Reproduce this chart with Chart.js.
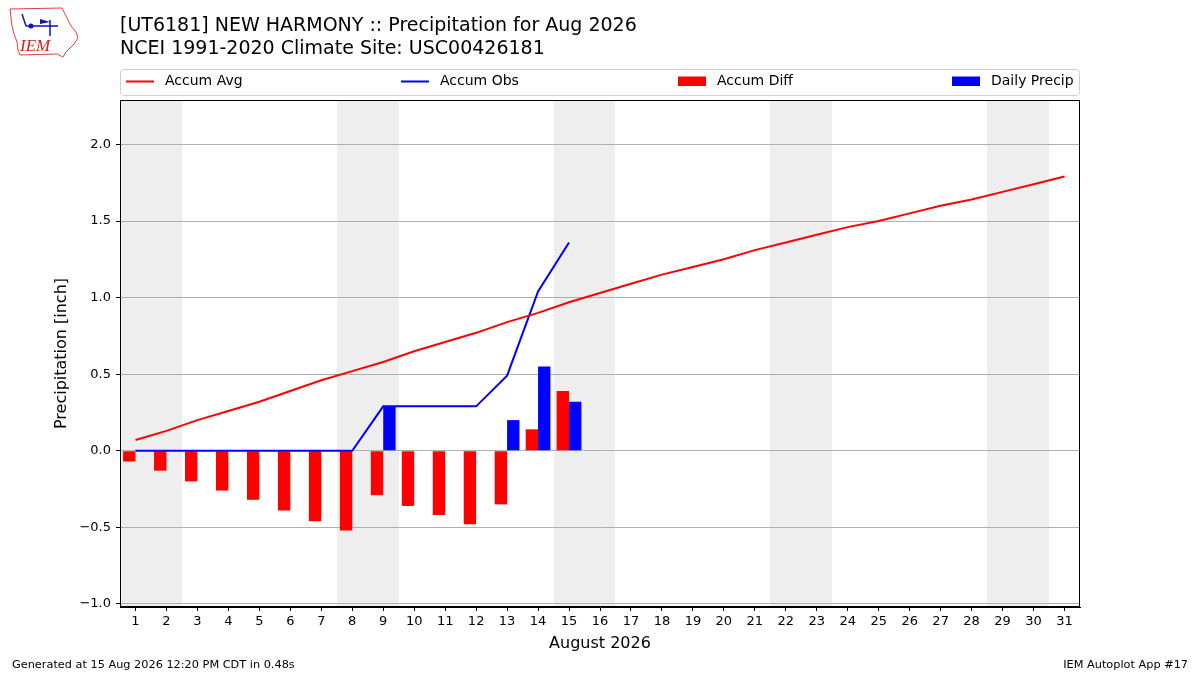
<!DOCTYPE html>
<html>
<head>
<meta charset="utf-8">
<script src="https://cdn.jsdelivr.net/npm/chart.js@4.4.1/dist/chart.umd.min.js"></script>
<style>
html,body{margin:0;padding:0;background:#fff;}
#wrap{width:1200px;height:675px;position:relative;}
</style>
</head>
<body>
<div id="wrap"><canvas id="c" width="1200" height="675"></canvas></div>
<script>
// ---- Data ----
const days = ["1","2","3","4","5","6","7","8","9","10","11","12","13","14","15","16","17","18","19","20","21","22","23","24","25","26","27","28","29","30","31"];
const accumAvg = [0.07,0.13,0.20,0.26,0.32,0.39,0.46,0.52,0.58,0.65,0.71,0.77,0.84,0.90,0.97,1.03,1.09,1.15,1.20,1.25,1.31,1.36,1.41,1.46,1.50,1.55,1.60,1.64,1.69,1.74,1.79];
const accumObs = [0,0,0,0,0,0,0,0,0.29,0.29,0.29,0.29,0.49,1.04,1.36];
const accumDiff = [-0.07,-0.13,-0.20,-0.26,-0.32,-0.39,-0.46,-0.52,-0.29,-0.36,-0.42,-0.48,-0.35,0.14,0.39];
const dailyPrecip = [0,0,0,0,0,0,0,0,0.29,0,0,0,0.20,0.55,0.32];
const weekendDays = ["1","2","8","9","15","16","22","23","29","30"];
const yTicks = [-1.0,-0.5,0.0,0.5,1.0,1.5,2.0];
const titleLines = ["[UT6181] NEW HARMONY :: Precipitation for Aug 2026","NCEI 1991-2020 Climate Site: USC00426181"];
const xTitle = "August 2026";
const yTitle = "Precipitation [inch]";
const footerLeft = "Generated at 15 Aug 2026 12:20 PM CDT in 0.48s";
const footerRight = "IEM Autoplot App #17";

const FONT = "'DejaVu Sans', sans-serif";

const decor = {
  id: 'decor',
  beforeDraw(chart) {
    const {ctx, chartArea: a, scales} = chart;
    ctx.save();
    ctx.fillStyle = '#fff';
    ctx.fillRect(0, 0, chart.width, chart.height);
    // weekend shading (merge consecutive days into one band)
    ctx.fillStyle = '#eeeeee';
    const x = scales.x;
    const half = (x.getPixelForValue(1) - x.getPixelForValue(0)) / 2;
    const idxs = weekendDays.map(d => days.indexOf(d)).sort((p, q) => p - q);
    let start = null, prev = null;
    const bands = [];
    idxs.forEach(i => {
      if (start === null) { start = i; prev = i; }
      else if (i === prev + 1) { prev = i; }
      else { bands.push([start, prev]); start = i; prev = i; }
    });
    if (start !== null) bands.push([start, prev]);
    bands.forEach(([s, e]) => {
      const x0 = Math.round(x.getPixelForValue(s) - half);
      const x1 = Math.round(x.getPixelForValue(e) + half);
      ctx.fillRect(x0, a.top, x1 - x0, a.bottom - a.top);
    });
    ctx.restore();
  },
  afterDraw(chart) {
    const {ctx, chartArea: a} = chart;
    ctx.save();
    // frame
    ctx.strokeStyle = '#000';
    ctx.lineWidth = 1;
    ctx.strokeRect(a.left + 0.5, a.top + 0.5, a.right - a.left - 1, a.bottom - a.top - 1);
    // titles
    ctx.fillStyle = '#000';
    ctx.font = "19px " + FONT;
    ctx.textBaseline = 'alphabetic';
    ctx.textAlign = 'left';
    ctx.fillText(titleLines[0], 120, 31);
    ctx.fillText(titleLines[1], 120, 54);
    // axis titles
    ctx.font = "16px " + FONT;
    ctx.textAlign = 'center';
    ctx.textBaseline = 'middle';
    ctx.fillText(xTitle, (a.left + a.right) / 2, 644);
    ctx.save();
    ctx.translate(62, (a.top + a.bottom) / 2);
    ctx.rotate(-Math.PI / 2);
    ctx.fillText(yTitle, 0, 0);
    ctx.restore();
    // footer
    ctx.font = "11.3px " + FONT;
    ctx.textAlign = 'left';
    ctx.fillText(footerLeft, 12, 665);
    ctx.textAlign = 'right';
    ctx.fillText(footerRight, 1188, 665);
    // legend
    const lx = 120.5, ly = 69.5, lw = 959, lh = 26, r = 3;
    ctx.strokeStyle = '#d0d0d0';
    ctx.fillStyle = 'rgba(255,255,255,0.8)';
    ctx.beginPath();
    ctx.moveTo(lx + r, ly);
    ctx.arcTo(lx + lw, ly, lx + lw, ly + lh, r);
    ctx.arcTo(lx + lw, ly + lh, lx, ly + lh, r);
    ctx.arcTo(lx, ly + lh, lx, ly, r);
    ctx.arcTo(lx, ly, lx + lw, ly, r);
    ctx.closePath();
    ctx.fill();
    ctx.stroke();
    const ds = chart.data.datasets;
    const items = [
      {d: ds[0], x: 126, type: 'line'},
      {d: ds[1], x: 401, type: 'line'},
      {d: ds[2], x: 678, type: 'box'},
      {d: ds[3], x: 952, type: 'box'}
    ];
    ctx.font = "14px " + FONT;
    ctx.textAlign = 'left';
    ctx.textBaseline = 'middle';
    items.forEach(it => {
      const cy = 81.5;
      if (it.type === 'line') {
        ctx.strokeStyle = it.d.borderColor;
        ctx.lineWidth = 2;
        ctx.beginPath();
        ctx.moveTo(it.x, cy);
        ctx.lineTo(it.x + 28, cy);
        ctx.stroke();
      } else {
        ctx.fillStyle = it.d.backgroundColor;
        ctx.fillRect(it.x, 76.5, 28, 9.5);
      }
      ctx.fillStyle = '#000';
      ctx.fillText(it.d.label, it.x + 39, cy);
    });
    // logo
    drawLogo(ctx);
    ctx.restore();
  }
};

function drawLogo(ctx) {
  ctx.save();
  ctx.strokeStyle = '#e04040';
  ctx.lineWidth = 1;
  ctx.beginPath();
  const pts = [[10,9],[62,8],[64,12],[68,20],[71,26],[76,32],[78,38],[74,44],[70,48],[66,52],[63,57],[57,54],[20,55],[18,50],[17,42],[14,34],[12,26],[11,18]];
  ctx.moveTo(pts[0][0], pts[0][1]);
  pts.slice(1).forEach(p => ctx.lineTo(p[0], p[1]));
  ctx.closePath();
  ctx.stroke();
  // station icon
  ctx.strokeStyle = '#1010c0';
  ctx.fillStyle = '#1010c0';
  ctx.lineWidth = 1.5;
  ctx.beginPath();
  ctx.moveTo(26, 26); ctx.lineTo(58, 26);
  ctx.moveTo(50, 20); ctx.lineTo(50, 36);
  ctx.moveTo(22, 14); ctx.lineTo(26, 26);
  ctx.stroke();
  ctx.beginPath();
  ctx.moveTo(40, 19); ctx.lineTo(50, 22); ctx.lineTo(40, 24); ctx.closePath(); ctx.fill();
  ctx.beginPath(); ctx.arc(31, 26, 2.5, 0, Math.PI * 2); ctx.fill();
  ctx.fillStyle = '#d02020';
  ctx.font = "italic 17px 'Liberation Serif', serif";
  ctx.textAlign = 'left';
  ctx.textBaseline = 'alphabetic';
  ctx.fillText('IEM', 20, 51);
  ctx.restore();
}

new Chart(document.getElementById('c'), {
  type: 'bar',
  data: {
    labels: days,
    datasets: [
      {type: 'line', label: 'Accum Avg', data: accumAvg, borderColor: '#ff0000', backgroundColor: '#ff0000', borderWidth: 2, pointRadius: 0, tension: 0, order: 1},
      {type: 'line', label: 'Accum Obs', data: accumObs, borderColor: '#0000ff', backgroundColor: '#0000ff', borderWidth: 2, pointRadius: 0, tension: 0, order: 2},
      {type: 'bar', label: 'Accum Diff', data: accumDiff, backgroundColor: '#ff0000', borderWidth: 0, categoryPercentage: 0.8, barPercentage: 1.0, order: 3},
      {type: 'bar', label: 'Daily Precip', data: dailyPrecip, backgroundColor: '#0000ff', borderWidth: 0, categoryPercentage: 0.8, barPercentage: 1.0, order: 4}
    ]
  },
  options: {
    responsive: false,
    animation: false,
    devicePixelRatio: 1,
    layout: {padding: {left: 0, right: 120, top: 100, bottom: 0}},
    plugins: {legend: {display: false}, title: {display: false}, tooltip: {enabled: false}},
    scales: {
      x: {
        type: 'category',
        offset: true,
        grid: {display: true, offset: false, color: 'rgba(0,0,0,0)', tickColor: '#000', tickLength: 4, drawOnChartArea: false},
        border: {display: true, color: '#000'},
        ticks: {color: '#000', font: {family: FONT, size: 13}, padding: 3, autoSkip: false, maxRotation: 0},
        afterFit(s) { s.height = 68; }
      },
      y: {
        type: 'linear',
        min: -1.02,
        max: 2.29,
        afterBuildTicks(s) { s.ticks = yTicks.map(v => ({value: v})); },
        grid: {color: '#b0b0b0', lineWidth: 1, tickColor: '#000', tickLength: 4},
        border: {display: true, color: '#000'},
        ticks: {color: '#000', font: {family: FONT, size: 13}, padding: 5,
          callback: v => v.toFixed(1).replace('-', '\u2212')},
        afterFit(s) { s.width = 120; }
      }
    }
  },
  plugins: [decor]
});
</script>
</body>
</html>
